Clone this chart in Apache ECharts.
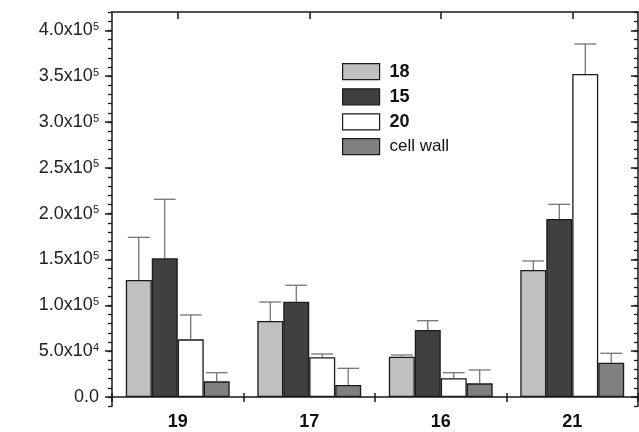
<!DOCTYPE html>
<html>
<head>
<meta charset="utf-8">
<script src="https://cdn.jsdelivr.net/npm/echarts@6/dist/echarts.min.js"></script>
<style>html,body{margin:0;padding:0;background:#fff;}#c{width:639px;height:432px;}</style>
</head>
<body>
<div id="c"></div>
<script>
// ---- data ----
const categories = ['19', '17', '16', '21'];
const seriesNames = ['18', '15', '20', 'cell wall'];
const s18 = [127600, 82900, 44000, 138500];
const s18Err = [46600, 20700, 1800, 9900];
const s15 = [151300, 104000, 73100, 194200];
const s15Err = [64400, 17900, 10100, 16000];
const s20 = [62900, 43300, 20400, 352400];
const s20Err = [26600, 3600, 6100, 32700];
const sCellWall = [17100, 13100, 14900, 37400];
const sCellWallErr = [9400, 18200, 14600, 10300];
const yTickValues = [0, 50000, 100000, 150000, 200000, 250000, 300000, 350000, 400000];

const values = [s18, s15, s20, sCellWall];
const errors = [s18Err, s15Err, s20Err, sCellWallErr];
const colors = ['#c0c0c0', '#404040', '#ffffff', '#808080'];
const GAP = 0.21;
const FONT = '"Liberation Sans", Arial, sans-serif';
const NARROW = '"Liberation Sans Narrow", "Arial Narrow", "Liberation Sans", sans-serif';

function fmtY(v) {
  if (v === 0) return '{a|0.0}';
  if (yTickValues.indexOf(v) < 0) return '';
  let e = Math.floor(Math.log10(v));
  let m = v / Math.pow(10, e);
  return '{a|' + m.toFixed(1) + 'x10}{s|' + e + '}';
}

const chart = echarts.init(document.getElementById('c'), null, {renderer: 'canvas'});
const axisLineStyle = {color: '#1a1a1a', width: 1.5};

const barSeries = values.map((arr, k) => ({
  name: seriesNames[k],
  type: 'bar',
  xAxisIndex: 0, yAxisIndex: 0,
  data: arr,
  barGap: '0%',
  barCategoryGap: (GAP * 100) + '%',
  itemStyle: {color: colors[k], borderColor: '#1a1a1a', borderWidth: 1.3},
  emphasis: {disabled: true},
  z: 2
}));

const errSeries = values.map((arr, k) => ({
  type: 'custom',
  xAxisIndex: 0, yAxisIndex: 0,
  data: arr.map((v, i) => [i, v, errors[k][i]]),
  encode: {x: 0, y: 1},
  z: 3,
  silent: true,
  renderItem: function (params, api) {
    const x = api.value(0), v = api.value(1), e = api.value(2);
    const band = api.size([1, 0])[0];
    const bw = band * (1 - GAP) / 4;
    const cx = api.coord([x, 0])[0] + (k - 1.5) * bw;
    const yTop = api.coord([x, v])[1];
    const yErr = api.coord([x, v + e])[1];
    const half = bw * 0.42;
    const st = {stroke: '#6a6a6a', lineWidth: 1.2};
    return {
      type: 'group',
      children: [
        {type: 'line', shape: {x1: cx, y1: yTop, x2: cx, y2: yErr}, style: st},
        {type: 'line', shape: {x1: cx - half, y1: yErr, x2: cx + half, y2: yErr}, style: st}
      ]
    };
  }
}));

const option = {
  animation: false,
  backgroundColor: '#fff',
  textStyle: {fontFamily: FONT},
  grid: [
    {left: 112, right: 1, top: 30.333, bottom: 35, outerBoundsMode: 'none', containLabel: false},
    {left: 112, right: 1, top: 12, bottom: 25.833, outerBoundsMode: 'none', containLabel: false}
  ],
  legend: {
    orient: 'vertical',
    left: 342, top: 62.7,
    padding: 0,
    itemWidth: 37, itemHeight: 16,
    itemGap: 7.1,
    icon: 'rect',
    selectedMode: false,
    itemStyle: {borderColor: '#1a1a1a', borderWidth: 1.2},
    textStyle: {fontSize: 17, color: '#111', lineHeight: 16, padding: [0, 0, 0, 5], fontFamily: FONT},
    data: seriesNames.map((n, k) => ({name: n, textStyle: {fontWeight: k < 3 ? 'bold' : 'normal', fontSize: k < 3 ? 18 : 17}}))
  },
  xAxis: [
    {
      gridIndex: 0, type: 'category', data: categories, position: 'bottom',
      axisLine: {show: true, onZero: false, lineStyle: axisLineStyle},
      axisTick: {show: true, length: 5, lineStyle: {color: '#1a1a1a', width: 1.5}},
      axisLabel: {fontSize: 18, fontWeight: 'bold', color: '#111', margin: 16, fontFamily: NARROW},
      splitLine: {show: false}
    },
    {
      gridIndex: 0, type: 'category', data: categories, position: 'bottom',
      axisLine: {show: false, onZero: false},
      axisTick: {show: true, inside: true, length: 4, lineStyle: {color: '#1a1a1a', width: 1.5}},
      axisLabel: {show: false},
      splitLine: {show: false}
    },
    {
      gridIndex: 1, type: 'category', data: categories, position: 'top',
      axisLine: {show: true, onZero: false, lineStyle: axisLineStyle},
      axisTick: {show: true, inside: true, alignWithLabel: true, length: 7, lineStyle: {color: '#1a1a1a', width: 1.5}},
      axisLabel: {show: false},
      splitLine: {show: false}
    }
  ],
  yAxis: [
    {
      gridIndex: 0, type: 'value', position: 'left', min: 0, max: 400000, interval: 50000,
      axisLine: {show: false},
      axisTick: {show: true, length: 7, lineStyle: {color: '#1a1a1a', width: 1.5}},
      axisLabel: {
        margin: 13, color: '#222',
        formatter: fmtY,
        rich: {
          a: {fontSize: 18, color: '#222', fontFamily: FONT},
          s: {fontSize: 11, color: '#222', verticalAlign: 'top', fontFamily: FONT}
        }
      },
      splitLine: {show: false}
    },
    {
      gridIndex: 0, type: 'value', position: 'right', min: 0, max: 400000, interval: 50000,
      axisLine: {show: false},
      axisTick: {show: true, inside: true, length: 7, lineStyle: {color: '#1a1a1a', width: 1.5}},
      axisLabel: {show: false},
      splitLine: {show: false}
    },
    {
      gridIndex: 1, type: 'value', position: 'left', min: -10000, max: 420000, interval: 10000,
      axisLine: {show: true, onZero: false, lineStyle: axisLineStyle},
      axisTick: {show: true, length: 4, lineStyle: {color: '#1a1a1a', width: 1.3}},
      axisLabel: {show: false},
      splitLine: {show: false}
    },
    {
      gridIndex: 1, type: 'value', position: 'right', min: -10000, max: 420000, interval: 10000,
      axisLine: {show: true, onZero: false, lineStyle: axisLineStyle},
      axisTick: {show: true, inside: true, length: 4, lineStyle: {color: '#1a1a1a', width: 1.3}},
      axisLabel: {show: false},
      splitLine: {show: false}
    }
  ],
  series: barSeries.concat(errSeries)
};
chart.setOption(option);
</script>
</body>
</html>
